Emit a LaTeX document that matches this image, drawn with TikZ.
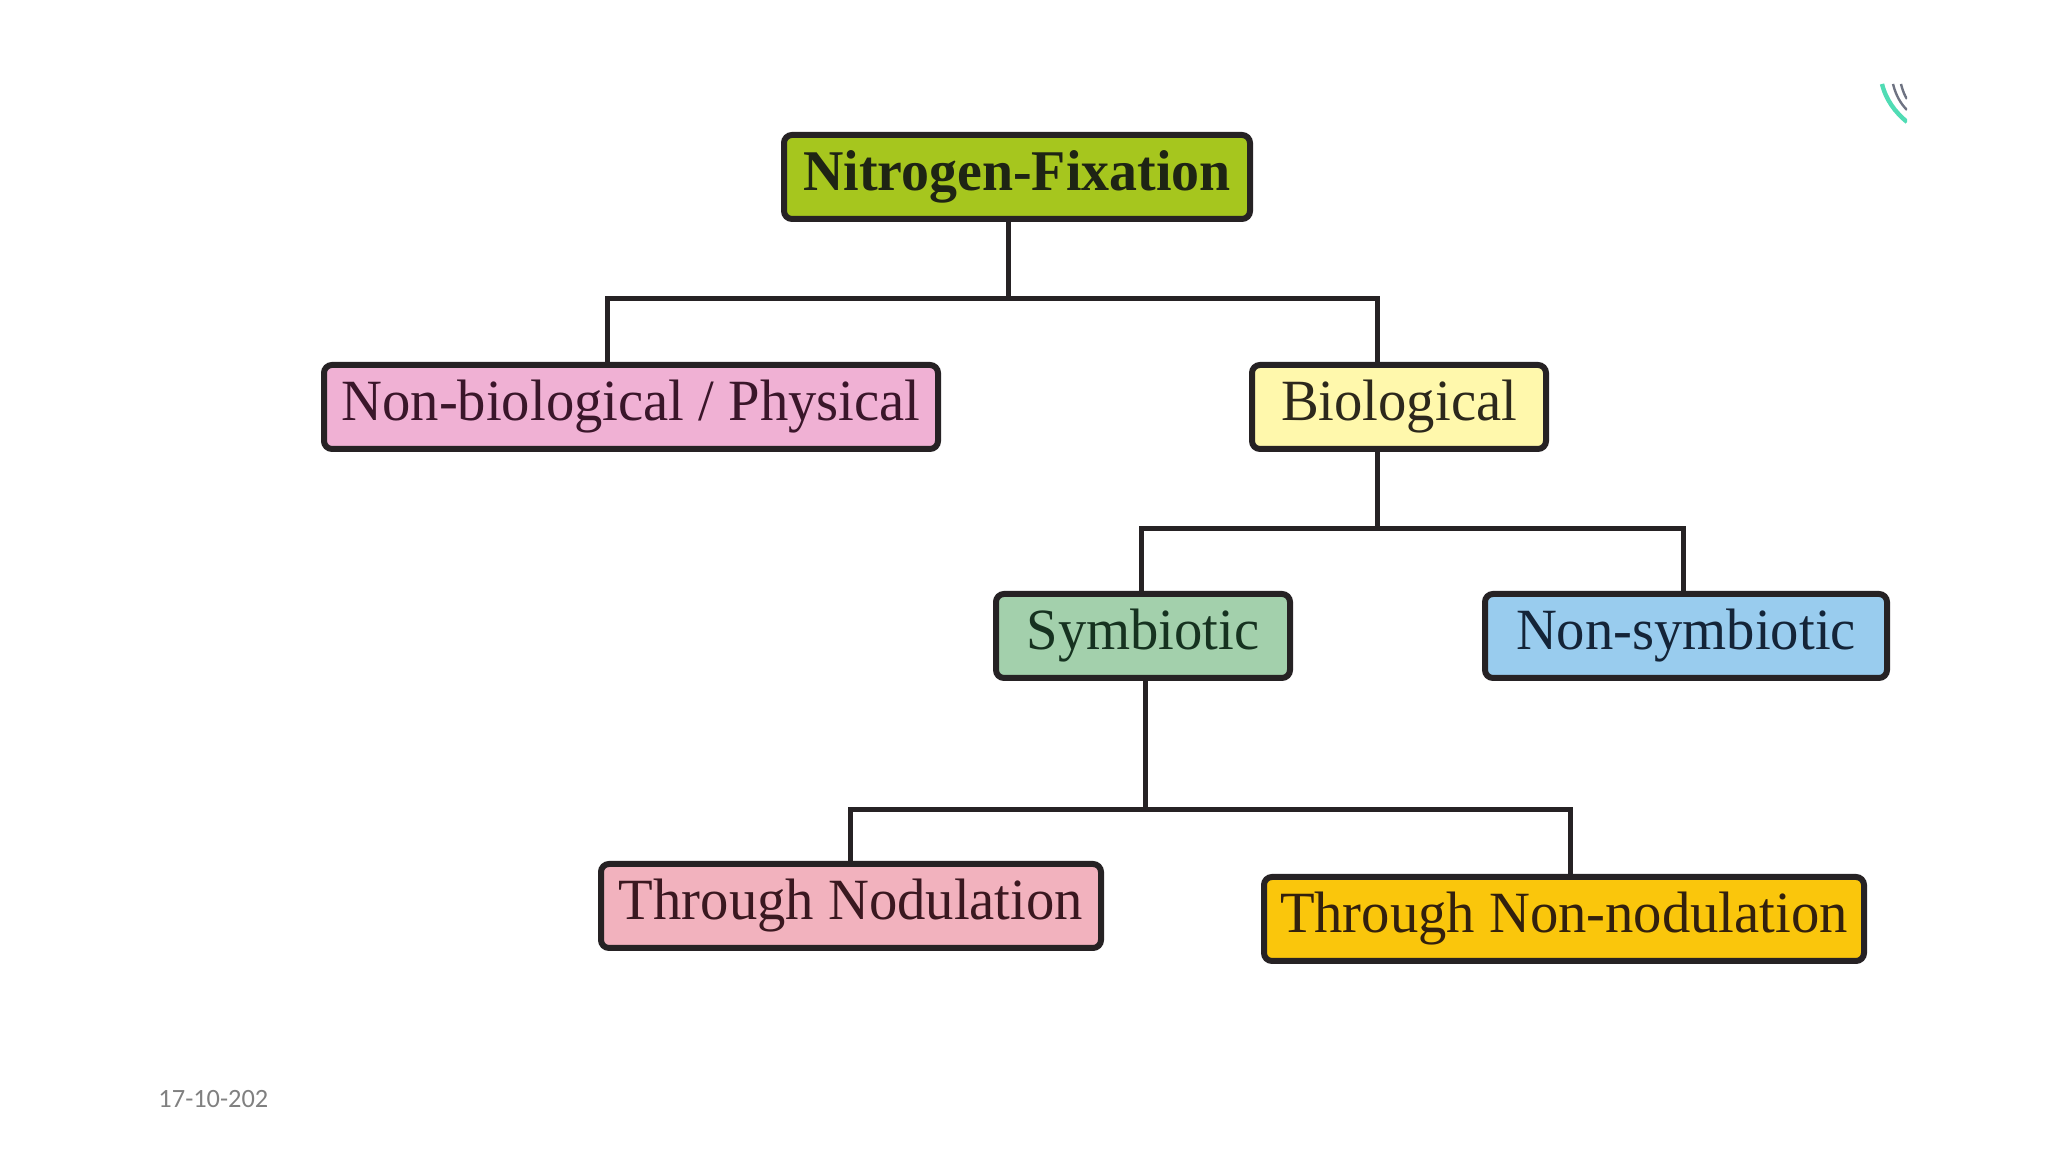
\documentclass[tikz,border=0pt]{standalone}
\usepackage{fontspec}
\setmainfont{Liberation Serif}[FakeStretch=0.97]
\newfontfamily\datefont{Carlito}

\definecolor{nfgreen}{RGB}{166,198,30}
\definecolor{nbpink}{RGB}{240,177,212}
\definecolor{bioyellow}{RGB}{255,248,172}
\definecolor{symgreen}{RGB}{163,208,172}
\definecolor{nsblue}{RGB}{153,204,238}
\definecolor{tnpink}{RGB}{242,178,190}
\definecolor{tnngold}{RGB}{250,198,12}
\definecolor{inkdark}{RGB}{38,34,36}

\tikzset{every picture/.style={line width=1.25pt}}
\tikzset{
  catbox/.style={draw=inkdark, line width=1.5pt, rounded corners=2pt, inner sep=0pt,
    minimum height=21pt, text=inkdark, font=\fontsize{14.6}{17}\selectfont},
  link/.style={draw=inkdark, line width=1.25pt}
}

\begin{document}
\begin{tikzpicture}[x=0.25pt,y=-0.25pt]
\useasboundingbox (0,0) rectangle (2048,1152);

% Text Node
\node [catbox, fill=nfgreen, text={rgb,255:red,30;green,36;blue,20}, minimum width=116.5pt, font=\fontsize{14.4}{17}\selectfont\bfseries] (nf) at (1017,177) {Nitrogen-Fixation};
% Text Node
\node [catbox, fill=nbpink, text={rgb,255:red,58;green,22;blue,42}, minimum width=153.5pt] (nb) at (631,407) {Non-biological / Physical};
% Text Node
\node [catbox, fill=bioyellow, text={rgb,255:red,44;green,40;blue,28}, minimum width=73.5pt] (bio) at (1399,407) {Biological};
% Text Node
\node [catbox, fill=symgreen, text={rgb,255:red,22;green,50;blue,32}, minimum width=73.5pt] (sym) at (1143,636) {Symbiotic};
% Text Node
\node [catbox, fill=nsblue, text={rgb,255:red,20;green,36;blue,56}, minimum width=100.5pt] (ns) at (1686,636) {Non-symbiotic};
% Text Node
\node [catbox, fill=tnpink, text={rgb,255:red,58;green,24;blue,32}, minimum width=125pt] (tn) at (851,906) {Through Nodulation};
% Text Node
\node [catbox, fill=tnngold, text={rgb,255:red,50;green,32;blue,14}, minimum width=150pt] (tnn) at (1564,919) {Through Non-nodulation};

%Straight Lines 
\coordinate (j1) at (1008,299);
\coordinate (j1l) at (607,299);
\coordinate (j1r) at (1377,299);
\draw [link] (j1 |- nf.south) -- (j1);
\draw [link] (j1l |- nb.north) -- (j1l) -- (j1r) -- (j1r |- bio.north);
%Straight Lines 
\coordinate (j2) at (1377,529);
\coordinate (j2l) at (1141,529);
\coordinate (j2r) at (1683,529);
\draw [link] (j2 |- bio.south) -- (j2);
\draw [link] (j2l |- sym.north) -- (j2l) -- (j2r) -- (j2r |- ns.north);
%Straight Lines 
\coordinate (j3) at (1145,810);
\coordinate (j3l) at (850,810);
\coordinate (j3r) at (1570,810);
\draw [link] (j3 |- sym.south) -- (j3);
\draw [link] (j3l |- tn.north) -- (j3l) -- (j3r) -- (j3r |- tnn.north);

%Date
\begin{scope}
\clip (140,1070) rectangle (266,1125);
\node [anchor=west, inner sep=0pt, text=gray, font=\datefont\fontsize{6.6}{8}\selectfont] (date) at (156,1099) {17-10-2021};
\end{scope}

%Corner arcs
\begin{scope}
\clip (1860,70) rectangle (1907,130);
\draw [line width=1.1pt, color={rgb, 255:red, 80; green, 220; blue, 180}] (1882,84) .. controls (1886,100) and (1895,112) .. (1907,122);
\draw [line width=0.6pt, color={rgb, 255:red, 110; green, 115; blue, 130}] (1893,84) .. controls (1896,96) and (1901,104) .. (1907,110);
\draw [line width=0.6pt, color={rgb, 255:red, 110; green, 115; blue, 130}] (1901,84) .. controls (1903,92) and (1905,96) .. (1907,99);
\end{scope}

\end{tikzpicture}
\end{document}
